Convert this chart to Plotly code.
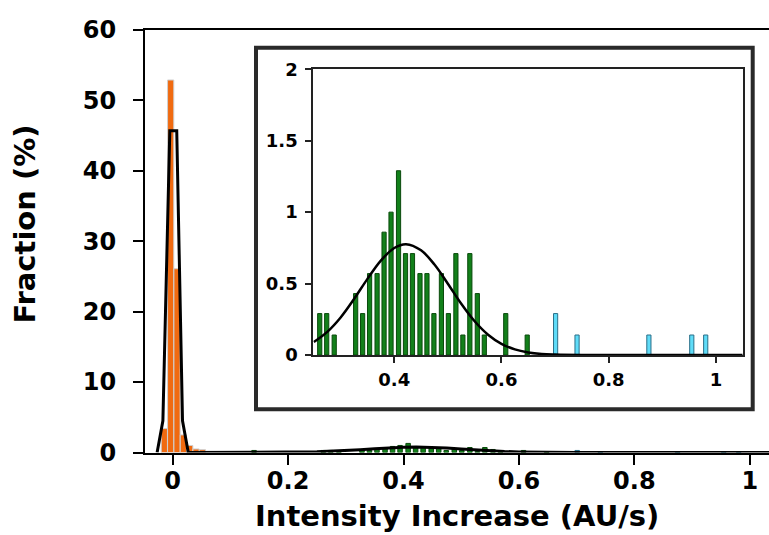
import plotly.graph_objects as go

# ---------------- data ----------------
# main histogram: population near zero (orange), fraction in %
orange_x = [-0.0145, -0.0035, 0.0075, 0.0185, 0.0295, 0.0405, 0.0515]
orange_y = [3.4, 52.9, 26.1, 2.5, 1.0, 0.5, 0.4]

# second population (green), fraction in %
green_x = [0.141, 0.261, 0.274, 0.288, 0.328, 0.341, 0.354, 0.368, 0.381, 0.394,
           0.408, 0.421, 0.434, 0.448, 0.461, 0.474, 0.488, 0.501, 0.515, 0.528,
           0.541, 0.555, 0.568, 0.608, 0.648]
green_y = [0.29, 0.29, 0.29, 0.14, 0.43, 0.29, 0.57, 0.57, 0.86, 1.0,
           1.29, 0.71, 0.71, 0.57, 0.57, 0.29, 0.57, 0.29, 0.71, 0.14,
           0.71, 0.43, 0.14, 0.29, 0.14]

# outliers (cyan), fraction in %
cyan_x = [0.701, 0.741, 0.875, 0.955, 0.981]
cyan_y = [0.29, 0.14, 0.14, 0.14, 0.14]

# fitted curve around the zero peak (main panel)
peak_fit_x = [-0.027, -0.017, -0.005, 0.007, 0.017, 0.027]
peak_fit_y = [0.0, 4.5, 45.7, 45.7, 4.5, 0.0]

# fitted curve of the green population
bump_fit_x = [0.25, 0.275, 0.30, 0.325, 0.35, 0.375, 0.40, 0.422, 0.45, 0.475,
              0.50, 0.525, 0.55, 0.575, 0.60, 0.625, 0.65, 0.675, 0.70, 0.75,
              0.85, 1.05]
bump_fit_y = [0.091, 0.162, 0.263, 0.392, 0.533, 0.661, 0.749, 0.776, 0.733, 0.633,
              0.499, 0.359, 0.236, 0.142, 0.078, 0.039, 0.018, 0.007, 0.003, 0.0,
              0.0, 0.0]

main_x_ticks = [0, 0.2, 0.4, 0.6, 0.8, 1]
main_x_labels = ["0", "0.2", "0.4", "0.6", "0.8", "1"]
main_y_ticks = [0, 10, 20, 30, 40, 50, 60]
inset_x_ticks = [0.4, 0.6, 0.8, 1]
inset_x_labels = ["0.4", "0.6", "0.8", "1"]
inset_y_ticks = [0, 0.5, 1, 1.5, 2]
inset_y_labels = ["0", "0.5", "1", "1.5", "2"]

x_title = "Intensity Increase (AU/s)"
y_title = "Fraction (%)"

# ---------------- styles ----------------
W, H = 769, 535
FONT = "DejaVu Sans"
ORANGE = "#f06a10"
ORANGE_EDGE = "#cfcfcf"
GREEN = "#12801a"
GREEN_EDGE = "#0a4a0c"
CYAN = "#5fdcf8"
CYAN_EDGE = "#2a6f88"

fig = go.Figure()

# main panel
fig.add_trace(go.Bar(x=orange_x, y=orange_y, width=0.0108, marker=dict(color=ORANGE, line=dict(color=ORANGE_EDGE, width=1)),
                     xaxis="x", yaxis="y", showlegend=False))
fig.add_trace(go.Bar(x=green_x, y=green_y, width=0.0078, marker=dict(color=GREEN, line=dict(color=GREEN_EDGE, width=1)),
                     xaxis="x", yaxis="y", showlegend=False))
fig.add_trace(go.Bar(x=cyan_x, y=cyan_y, width=0.0078, marker=dict(color=CYAN, line=dict(color=CYAN_EDGE, width=1)),
                     xaxis="x", yaxis="y", showlegend=False))
fig.add_trace(go.Scatter(x=peak_fit_x + bump_fit_x, y=peak_fit_y + bump_fit_y, mode="lines",
                         line=dict(color="black", width=3), xaxis="x", yaxis="y", showlegend=False))

# inset panel
fig.add_trace(go.Bar(x=green_x, y=green_y, width=0.0078, marker=dict(color=GREEN, line=dict(color=GREEN_EDGE, width=1)),
                     xaxis="x2", yaxis="y2", showlegend=False))
fig.add_trace(go.Bar(x=cyan_x, y=cyan_y, width=0.0078, marker=dict(color=CYAN, line=dict(color=CYAN_EDGE, width=1)),
                     xaxis="x2", yaxis="y2", showlegend=False))
fig.add_trace(go.Scatter(x=bump_fit_x, y=bump_fit_y, mode="lines", line=dict(color="black", width=2.5, shape="spline"),
                         xaxis="x2", yaxis="y2", showlegend=False, cliponaxis=True))

tick_main = dict(family=FONT, size=24, color="black", weight="bold")
tick_inset = dict(family=FONT, size=18, color="black", weight="bold")

fig.update_layout(
    width=W, height=H,
    margin=dict(l=0, r=0, t=0, b=0),
    paper_bgcolor="white", plot_bgcolor="rgba(0,0,0,0)",
    barmode="overlay",
    xaxis=dict(domain=[145 / W, 1.0], range=[-0.048, 1.0334], anchor="y", automargin=False,
               tickvals=main_x_ticks, ticktext=main_x_labels, tickfont=tick_main,
               ticks="outside", ticklen=10, tickwidth=2, tickcolor="black",
               showline=True, linewidth=2, linecolor="black", mirror=True,
               showgrid=False, zeroline=False, ticklabelstandoff=-4),
    yaxis=dict(domain=[1 - 452.5 / H, 1 - 30 / H], range=[0, 60], anchor="x", automargin=False,
               tickvals=main_y_ticks, tickfont=tick_main,
               ticks="outside", ticklen=10, tickwidth=2, tickcolor="black",
               showline=True, linewidth=2, linecolor="black",
               showgrid=False, zeroline=False, ticklabelstandoff=12),
    xaxis2=dict(domain=[313.3 / W, 742.7 / W], range=[0.249, 1.05], anchor="y2", automargin=False,
                tickvals=inset_x_ticks, ticktext=inset_x_labels, tickfont=tick_inset,
                ticks="outside", ticklen=6, tickwidth=1.5, tickcolor="#222",
                showline=True, linewidth=2, linecolor="#222", mirror=True,
                showgrid=False, zeroline=False, ticklabelstandoff=1),
    yaxis2=dict(domain=[1 - 355 / H, 1 - 69.3 / H], range=[0, 2], anchor="x2", automargin=False,
                tickvals=inset_y_ticks, ticktext=inset_y_labels, tickfont=tick_inset,
                ticks="outside", ticklen=6, tickwidth=1.5, tickcolor="#222",
                showline=True, linewidth=2, linecolor="#222", mirror=True,
                showgrid=False, zeroline=False, ticklabelstandoff=4),
    shapes=[dict(type="rect", xref="paper", yref="paper",
                 x0=256 / W, x1=752.7 / W, y0=1 - 409.3 / H, y1=1 - 47.7 / H,
                 line=dict(color="#2a2a2a", width=4), fillcolor="rgba(0,0,0,0)", layer="above")],
    annotations=[
        dict(text=x_title, xref="paper", yref="paper", x=457 / W, y=1 - 516 / H,
             xanchor="center", yanchor="middle", showarrow=False,
             font=dict(family=FONT, size=29, color="black", weight="bold")),
        dict(text=y_title, xref="paper", yref="paper", x=25 / W, y=1 - 224.5 / H,
             xanchor="center", yanchor="middle", showarrow=False, textangle=-90,
             font=dict(family=FONT, size=29, color="black", weight="bold")),
    ],
)

fig.write_html("out.html", config={"displayModeBar": False},
               post_script="document.body.style.margin='0';document.body.style.overflow='hidden';")
